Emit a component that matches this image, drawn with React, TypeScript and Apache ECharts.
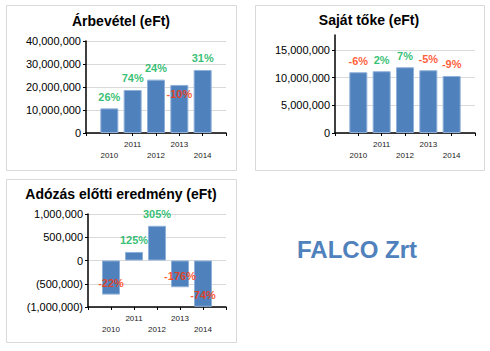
import React, { useEffect, useRef } from "react";
import * as echarts from "echarts";

const years = ["2010", "2011", "2012", "2013", "2014"];

const revenueValues = [10700000, 18700000, 23200000, 20900000, 27400000];
const revenuePct = ["26%", "74%", "24%", "-10%", "31%"];

const equityValues = [10970000, 11150000, 11870000, 11330000, 10300000];
const equityPct = ["-6%", "2%", "7%", "-5%", "-9%"];

const profitValues = [-733000, 184000, 746000, -575000, -995000];
const profitPct = ["-22%", "125%", "305%", "-176%", "-74%"];

const titles = ["Árbevétel (eFt)", "Saját tőke (eFt)", "Adózás előtti eredmény (eFt)"];
const companyName = "FALCO Zrt";

// label vertical offsets (px) relative to bar end
const revenueLabelDy = [-11.5, -11.5, -11.5, 9, -11.5];
const equityLabelDy = [-11.5, -11.5, -11.5, -11.5, -11.5];
const profitLabelDy = [-11.5, -11.5, -11.5, -11.5, -11.5];

const FONT = "'Liberation Sans', Arial, sans-serif";
const BAR = "#4F81BD";
const GREEN = "#00B050";
const RED = "#FF3300";
const GRID = "#D9D9D9";

const padCats = ["", ...years, ""];
const pad = (arr: number[]) => [null, ...arr, null];

function fmtNum(v: number) {
  const s = Math.abs(v).toLocaleString("en-US");
  return v < 0 ? "(" + s + ")" : s;
}

export default function App() {
  const ref = useRef<HTMLDivElement>(null);
  useEffect(() => {
    if (!ref.current) return;
    const chart = echarts.init(ref.current, undefined, { renderer: "svg" });

    const grids = [
      { left: 86, top: 41, width: 140, height: 92 },
      { left: 335, top: 35, width: 140, height: 98 },
      { left: 88, top: 214, width: 138, height: 93 },
    ];

    const xAxes = grids.map((_, i) => ({
      type: "category",
      gridIndex: i,
      data: padCats,
      boundaryGap: false,
      axisLine: { onZero: false, lineStyle: { color: "#000", width: 1.5 } },
      axisTick: { show: true, length: 3, inside: false, lineStyle: { color: "#000" } },
      axisLabel: {
        interval: 0,
        fontFamily: FONT,
        fontSize: 8,
        color: "#222",
        lineHeight: 11,
        margin: 6,
        formatter: (v: string, idx: number) => (idx % 2 === 1 ? "\n" + v : v),
      },
      splitLine: { show: false },
    }));

    const yBase = (i: number, min: number, max: number, interval: number, showMaxLine = true) => ({
      type: "value",
      gridIndex: i,
      min,
      max,
      interval,
      axisLine: { show: true, lineStyle: { color: "#000", width: 1.5 } },
      axisTick: { show: true, length: 3, lineStyle: { color: "#000" } },
      axisLabel: {
        fontFamily: FONT,
        fontSize: 11,
        color: "#000",
        margin: 5,
        showMaxLabel: showMaxLine,
        formatter: (v: number) => fmtNum(v),
      },
      splitLine: { show: true, showMaxLine, lineStyle: { color: GRID, width: 1 } },
    });

    const yAxes = [
      yBase(0, 0, 40000000, 10000000),
      yBase(1, 0, 17700000, 5000000, false),
      yBase(2, -1000000, 1000000, 500000),
    ];

    const sets = [
      { values: revenueValues, pct: revenuePct, dy: revenueLabelDy },
      { values: equityValues, pct: equityPct, dy: equityLabelDy },
      { values: profitValues, pct: profitPct, dy: profitLabelDy },
    ];

    const series: any[] = [];
    sets.forEach((s, i) => {
      series.push({
        type: "bar",
        xAxisIndex: i,
        yAxisIndex: i,
        data: pad(s.values),
        barWidth: 18,
        itemStyle: { color: BAR, borderColor: "#8FB0DA", borderWidth: 1 },
        silent: true,
      });
      series.push({
        type: "scatter",
        xAxisIndex: i,
        yAxisIndex: i,
        symbolSize: 1,
        itemStyle: { color: "transparent" },
        z: 5,
        silent: true,
        data: [
          null,
          ...s.values.map((v, k) => ({
            value: v,
            label: {
              show: true,
              position: "inside",
              offset: [0, s.dy[k]],
              formatter: s.pct[k],
              fontFamily: FONT,
              fontSize: 11,
              fontWeight: "bold",
              color: s.pct[k].startsWith("-") ? RED : GREEN,
            },
          })),
          null,
        ],
      });
    });

    const panel = (x: number, y: number, w: number, h: number) => ({
      type: "rect",
      shape: { x: x + 0.5, y: y + 0.5, width: w, height: h },
      style: { fill: "none", stroke: GRID, lineWidth: 1 },
      silent: true,
    });

    const titleText = (text: string, x: number, y: number) => ({
      type: "text",
      x,
      y,
      style: {
        text,
        fontFamily: FONT,
        fontSize: 14,
        fontWeight: "bold",
        fill: "#000",
        textAlign: "center",
        textVerticalAlign: "middle",
      },
      silent: true,
    });

    chart.setOption({
      animation: false,
      backgroundColor: "#fff",
      grid: grids,
      xAxis: xAxes,
      yAxis: yAxes,
      series,
      graphic: [
        panel(6, 5, 230, 165),
        panel(255, 5, 229, 165),
        panel(6, 179, 230, 163),
        titleText(titles[0], 121, 21),
        titleText(titles[1], 369, 20),
        titleText(titles[2], 121, 194),
        {
          type: "text",
          x: 357,
          y: 249,
          style: {
            text: companyName,
            fontFamily: FONT,
            fontSize: 24,
            fontWeight: "bold",
            fill: "#4F81BD",
            textAlign: "center",
            textVerticalAlign: "middle",
          },
          silent: true,
        },
      ],
    });
    return () => chart.dispose();
  }, []);
  return (
    <div
      ref={ref}
      style={{ position: "absolute", left: 0, top: 0, width: 490, height: 351, background: "#fff" }}
    />
  );
}
